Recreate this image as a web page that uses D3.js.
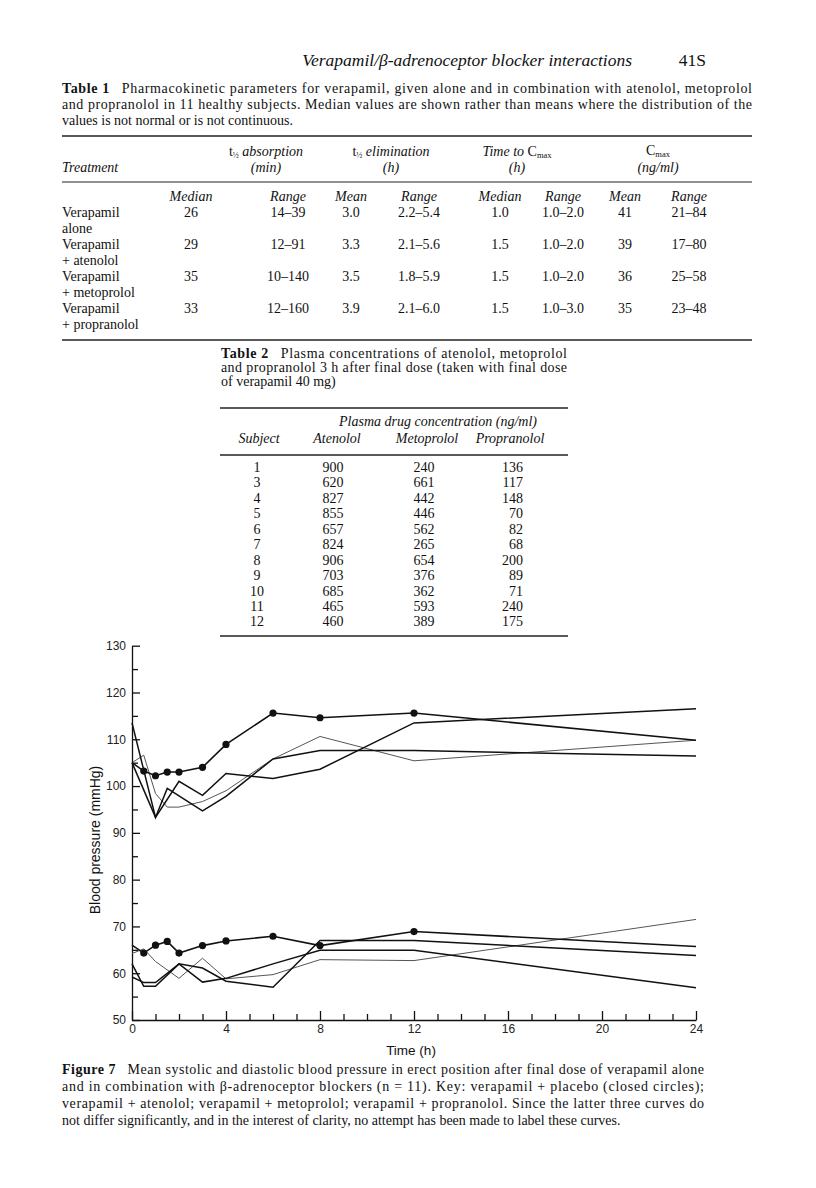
<!DOCTYPE html>
<meta charset="utf-8">
<body style="margin:0;background:#fff">
<script src="https://d3js.org/d3.v7.min.js"></script>
<script>
// ---- data ----
var times = [0, 0.5, 1, 1.5, 2, 3, 4, 6, 8, 12, 24];

// systolic (upper group); null = no reading at that time
var sysPlacebo = [105, 103.2, 102.2, 103, 103, 104, 108.9, 115.6, 114.6, 115.6, 109.8];
var sysThin    = [105, 106.6, 98.4, 95.5, 95.5, 96.7, 99, 105.8, 110.6, 105.4, 109.8];
var sysC       = [105, null, 93.3, null, 101, 98, 102.7, 101.6, 103.6, 113.5, 116.5];
var sysD       = [113.5, null, 93.3, 99.5, null, 94.7, 97.8, 105.8, 107.6, 107.6, 106.4];

// diastolic (lower group)
var diaPlacebo = [66, 64.3, 66, 66.8, 64.3, 65.9, 66.9, 67.9, 65.9, 68.9, 65.7];
var diaThin    = [64.2, 65.2, 62.5, null, 58.9, 63.2, 58.8, 59.7, 62.9, 62.7, 71.5];
var diaE       = [62, 57.2, 57.2, null, 62, 61.1, 58.3, 57.0, 67.0, 67.0, 63.8];
var diaH       = [59.2, 58.0, 58.0, null, 62, 58.1, 58.9, 62, 64.9, 64.9, 56.9];

var yTicks = [50, 60, 70, 80, 90, 100, 110, 120, 130];
var xTicks = [0, 4, 8, 12, 16, 20, 24];

// table 1
var t1Treat = [["Verapamil", "alone"], ["Verapamil", "+ atenolol"], ["Verapamil", "+ metoprolol"], ["Verapamil", "+ propranolol"]];
var t1AbsMedian = ["26", "29", "35", "33"];
var t1AbsRange = ["14–39", "12–91", "10–140", "12–160"];
var t1ElimMean = ["3.0", "3.3", "3.5", "3.9"];
var t1ElimRange = ["2.2–5.4", "2.1–5.6", "1.8–5.9", "2.1–6.0"];
var t1TmaxMedian = ["1.0", "1.5", "1.5", "1.5"];
var t1TmaxRange = ["1.0–2.0", "1.0–2.0", "1.0–2.0", "1.0–3.0"];
var t1CmaxMean = ["41", "39", "36", "35"];
var t1CmaxRange = ["21–84", "17–80", "25–58", "23–48"];

// table 2
var t2Subject = [1, 3, 4, 5, 6, 7, 8, 9, 10, 11, 12];
var t2Atenolol = [900, 620, 827, 855, 657, 824, 906, 703, 685, 465, 460];
var t2Metoprolol = [240, 661, 442, 446, 562, 265, 654, 376, 362, 593, 389];
var t2Propranolol = [136, 117, 148, 70, 82, 68, 200, 89, 71, 240, 175];

var serif = "'Liberation Serif', 'Times New Roman', serif";
var sans = "'Liberation Sans', Arial, sans-serif";

var svg = d3.select("body").append("svg")
    .attr("width", 816)
    .attr("height", 1188)
    .style("display", "block");

svg.append("rect").attr("width", 816).attr("height", 1188).attr("fill", "#fff");

function txt(x, y, s, opts) {
  opts = opts || {};
  var t = svg.append("text")
    .attr("x", x).attr("y", y)
    .attr("font-family", opts.family || serif)
    .attr("font-size", opts.size || 14)
    .attr("fill", "#111")
    .attr("text-anchor", opts.anchor || "start");
  if (opts.italic) t.attr("font-style", "italic");
  if (opts.bold) t.attr("font-weight", "bold");
  t.text(s);
  return t;
}

function rule(x1, x2, y, w) {
  svg.append("line").attr("x1", x1).attr("x2", x2).attr("y1", y).attr("y2", y)
    .attr("stroke", "#222").attr("stroke-width", w || 1.2);
}

// caption line with bold lead, justified by letter spacing
function capLine(x, y, bold, rest, len) {
  var t = svg.append("text").attr("x", x).attr("y", y)
    .attr("font-family", serif).attr("font-size", 14).attr("fill", "#111");
  if (len) t.attr("textLength", len).attr("lengthAdjust", "spacing");
  if (bold) t.append("tspan").attr("font-weight", "bold").text(bold);
  t.append("tspan").text(rest);
}

// ---- running head ----
txt(632, 66, "Verapamil/β-adrenoceptor blocker interactions", {size: 17.5, italic: true, anchor: "end"});
txt(706, 66, "41S", {size: 17.5, anchor: "end"});

// ---- table 1 ----
capLine(62, 93, "Table 1", "\u2002 Pharmacokinetic parameters for verapamil, given alone and in combination with atenolol, metoprolol", 690);
capLine(62, 109, null, "and propranolol in 11 healthy subjects. Median values are shown rather than means where the distribution of the", 690);
capLine(62, 125, null, "values is not normal or is not continuous.");
rule(62, 752, 136, 1.4);

function thalf(x, y, word) {
  var t = svg.append("text").attr("x", x).attr("y", y).attr("text-anchor", "middle")
    .attr("font-family", serif).attr("font-size", 14).attr("fill", "#111");
  t.append("tspan").text("t");
  t.append("tspan").attr("font-size", 8).attr("dy", 2).text("½");
  t.append("tspan").attr("dy", -2).attr("font-style", "italic").text(" " + word);
}
thalf(266, 156, "absorption");
txt(266, 172, "(min)", {italic: true, anchor: "middle"});
thalf(391, 156, "elimination");
txt(391, 172, "(h)", {italic: true, anchor: "middle"});
var tm = svg.append("text").attr("x", 517).attr("y", 156).attr("text-anchor", "middle")
  .attr("font-family", serif).attr("font-size", 14).attr("fill", "#111");
tm.append("tspan").attr("font-style", "italic").text("Time to ");
tm.append("tspan").text("C");
tm.append("tspan").attr("font-size", 8.5).attr("dy", 2).text("max");
txt(517, 172, "(h)", {italic: true, anchor: "middle"});
var cm = svg.append("text").attr("x", 658).attr("y", 155).attr("text-anchor", "middle")
  .attr("font-family", serif).attr("font-size", 14).attr("fill", "#111");
cm.append("tspan").text("C");
cm.append("tspan").attr("font-size", 8.5).attr("dy", 2).text("max");
txt(658, 172, "(ng/ml)", {italic: true, anchor: "middle"});
txt(62, 172, "Treatment", {italic: true});
rule(62, 752, 182, 1.2);

var t1Cols = [191, 288, 351, 419, 500, 563, 625, 689];
var t1Sub = ["Median", "Range", "Mean", "Range", "Median", "Range", "Mean", "Range"];
t1Sub.forEach(function(s, i) { txt(t1Cols[i], 201, s, {italic: true, anchor: "middle"}); });

var t1Data = [t1AbsMedian, t1AbsRange, t1ElimMean, t1ElimRange, t1TmaxMedian, t1TmaxRange, t1CmaxMean, t1CmaxRange];
var rowY = [217, 249, 281, 313];
t1Treat.forEach(function(tr, r) {
  txt(62, rowY[r], tr[0]);
  txt(62, rowY[r] + 16, tr[1]);
  t1Data.forEach(function(col, c) {
    txt(t1Cols[c], rowY[r], col[r], {anchor: "middle"});
  });
});
rule(62, 752, 340, 1.4);

// ---- table 2 ----
capLine(221, 358, "Table 2", "\u2002 Plasma concentrations of atenolol, metoprolol", 346);
capLine(221, 372, null, "and propranolol 3 h after final dose (taken with final dose", 346);
capLine(221, 386, null, "of verapamil 40 mg)");
rule(220, 568, 408, 1.3);
txt(438, 426, "Plasma drug concentration (ng/ml)", {italic: true, anchor: "middle"});
txt(259, 443, "Subject", {italic: true, anchor: "middle"});
txt(337, 443, "Atenolol", {italic: true, anchor: "middle"});
txt(427, 443, "Metoprolol", {italic: true, anchor: "middle"});
txt(510, 443, "Propranolol", {italic: true, anchor: "middle"});
rule(220, 568, 455, 1.3);
t2Subject.forEach(function(s, i) {
  var yy = 472 + i * 15.44;
  txt(257, yy, s, {anchor: "middle"});
  txt(333, yy, t2Atenolol[i], {anchor: "middle"});
  txt(424, yy, t2Metoprolol[i], {anchor: "middle"});
  txt(523, yy, t2Propranolol[i], {anchor: "end"});
});
rule(220, 568, 636, 1.3);

// ---- chart ----
var x = d3.scaleLinear().domain([0, 24]).range([132, 696]);
var y = d3.scaleLinear().domain([50, 130]).range([1020, 645.7]);

var g = svg.append("g");

// y axis: major every 10, minor every 5, ticks inward
var yAxis = d3.axisLeft(y).tickValues(yTicks).tickSize(-8).tickPadding(6).tickSizeOuter(0);
g.append("g").attr("transform", "translate(132,0)").call(yAxis);
g.append("g").attr("transform", "translate(132,0)")
  .call(d3.axisLeft(y).tickValues(d3.range(55, 130, 10)).tickSize(-6).tickFormat("").tickSizeOuter(0))
  .select(".domain").remove();

// x axis: major every 4 h, minor every hour, ticks inward
var xAxis = d3.axisBottom(x).tickValues(xTicks).tickSize(-9).tickPadding(4).tickSizeOuter(0);
g.append("g").attr("transform", "translate(0,1020)").call(xAxis);
g.append("g").attr("transform", "translate(0,1020)")
  .call(d3.axisBottom(x).tickValues(d3.range(1, 24).filter(function(d) { return d % 4; })).tickSize(-6).tickFormat("").tickSizeOuter(0))
  .select(".domain").remove();

g.selectAll(".domain, .tick line").attr("stroke", "#111").attr("stroke-width", 1.3);
g.selectAll(".tick text").attr("font-family", sans).attr("font-size", 12).attr("fill", "#222");

txt(95, 840, "Blood pressure (mmHg)", {family: sans, size: 14, anchor: "middle"})
  .attr("transform", "rotate(-90,95,840)").attr("dy", "0.35em");
txt(411, 1055, "Time (h)", {family: sans, size: 13.5, anchor: "middle"});

var line = d3.line()
  .defined(function(d) { return d[1] != null; })
  .x(function(d) { return x(d[0]); })
  .y(function(d) { return y(d[1]); });

function pts(vals) {
  return times.map(function(t, i) { return [t, vals[i]]; }).filter(function(d) { return d[1] != null; });
}

var series = [
  {v: sysThin, w: 1, c: "#555"},
  {v: sysC, w: 1.5, c: "#111"},
  {v: sysD, w: 1.5, c: "#111"},
  {v: sysPlacebo, w: 1.6, c: "#111", dots: true},
  {v: diaThin, w: 1, c: "#555"},
  {v: diaE, w: 1.5, c: "#111"},
  {v: diaH, w: 1.5, c: "#111"},
  {v: diaPlacebo, w: 1.6, c: "#111", dots: true}
];

series.forEach(function(s) {
  g.append("path").datum(pts(s.v))
    .attr("d", line)
    .attr("fill", "none")
    .attr("stroke", s.c)
    .attr("stroke-width", s.w)
    .attr("stroke-linejoin", "miter");
  if (s.dots) {
    g.selectAll(null)
      .data(pts(s.v).filter(function(d) { return d[0] > 0 && d[0] < 24; }))
      .enter().append("circle")
      .attr("cx", function(d) { return x(d[0]); })
      .attr("cy", function(d) { return y(d[1]); })
      .attr("r", 3.6)
      .attr("fill", "#111");
  }
});

// ---- figure caption ----
capLine(62, 1074, "Figure 7", "\u2002 Mean systolic and diastolic blood pressure in erect position after final dose of verapamil alone", 642);
capLine(62, 1091, null, "and in combination with β-adrenoceptor blockers (n = 11). Key: verapamil + placebo (closed circles);", 642);
capLine(62, 1108, null, "verapamil + atenolol; verapamil + metoprolol; verapamil + propranolol. Since the latter three curves do", 642);
capLine(62, 1125, null, "not differ significantly, and in the interest of clarity, no attempt has been made to label these curves.");
</script>
</body>
